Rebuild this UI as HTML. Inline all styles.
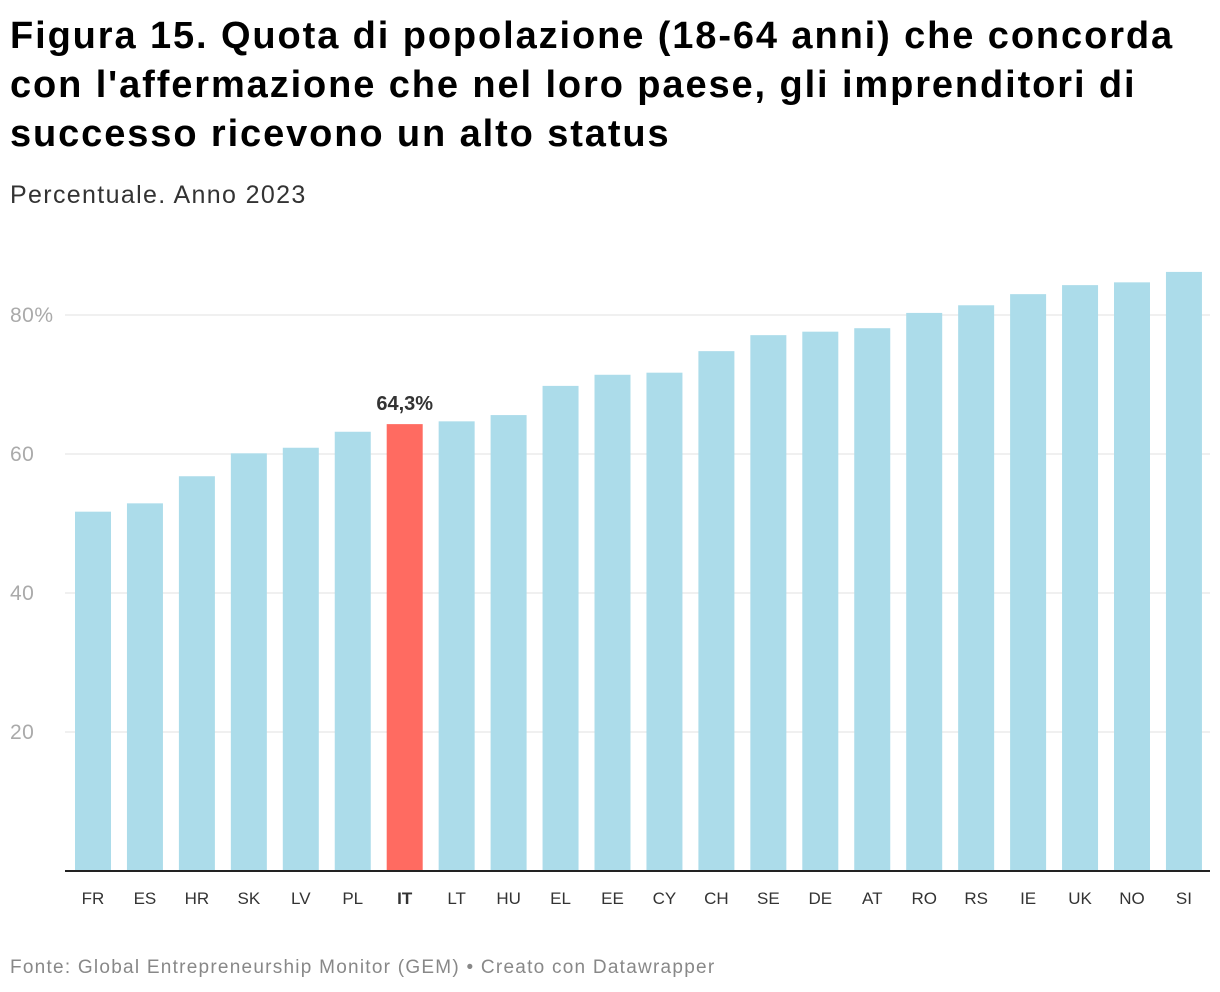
<!DOCTYPE html>
<html><head><meta charset="utf-8"><style>
body{margin:0;background:#fff;font-family:"Liberation Sans",sans-serif;width:1220px;height:992px;overflow:hidden;position:relative}
h1{position:absolute;left:10px;top:12px;margin:0;font-size:38px;line-height:49px;font-weight:bold;color:#000;width:1210px;white-space:nowrap;letter-spacing:1.9px}
.sub{position:absolute;left:10px;top:181px;font-size:25px;color:#333;letter-spacing:1.35px}
.foot{position:absolute;left:10px;top:957px;font-size:19px;color:#888;letter-spacing:1.25px}
svg{position:absolute;left:0;top:0}
</style></head><body>
<h1>Figura 15. Quota di popolazione (18-64 anni) che concorda<br>con l'affermazione che nel loro paese, gli imprenditori di<br>successo ricevono un alto status</h1>
<div class="sub">Percentuale. Anno 2023</div>
<div class="foot">Fonte: Global Entrepreneurship Monitor (GEM) • Creato con Datawrapper</div>
<svg id="c" width="1220" height="992"></svg>
<script>
const categories=["FR","ES","HR","SK","LV","PL","IT","LT","HU","EL","EE","CY","CH","SE","DE","AT","RO","RS","IE","UK","NO","SI"];
const values=[51.7,52.9,56.8,60.1,60.9,63.2,64.3,64.7,65.6,69.8,71.4,71.7,74.8,77.1,77.6,78.1,80.3,81.4,83.0,84.3,84.7,86.2];
const ticks=[20,40,60,80];
const tickLabels=["20","40","60","80%"];
const highlight="IT";
const ns="http://www.w3.org/2000/svg";
const svg=document.getElementById("c");
const y0=871,pxPer=6.95;
const y=v=>y0-v*pxPer;
const x=i=>93+i*51.95;
function mk(t,a){const e=document.createElementNS(ns,t);for(const k in a)e.setAttribute(k,a[k]);svg.appendChild(e);return e;}
ticks.forEach((t,i)=>{
 const l=mk("line",{x1:65,x2:1210,y1:y(t),y2:y(t),stroke:"#e0e0e0","stroke-width":1});
 
 
 const tx=mk("text",{x:10,y:y(t)+7,"font-size":21,fill:"#aaa","font-family":"Liberation Sans","letter-spacing":0.5});
 tx.textContent=tickLabels[i];
 
 
});
categories.forEach((c,i)=>{
 const hi=c===highlight;
 const r=mk("rect",{x:x(i)-18,y:y(values[i]),width:36,height:values[i]*pxPer,fill:hi?"#ff6b61":"#acdcea"});
 
 
 const t=mk("text",{x:x(i),y:904,"font-size":17,"text-anchor":"middle",fill:"#333","font-weight":hi?"bold":"normal","font-family":"Liberation Sans"});
 t.textContent=c;
 
 
 if(hi){
  const v=mk("text",{x:x(i),y:y(values[i])-14,"font-size":20,"text-anchor":"middle","font-weight":"bold",fill:"#333","font-family":"Liberation Sans"});
  v.textContent=values[i].toFixed(1).replace(".",",")+"%";
  
  
 }
});
const b=mk("line",{x1:65,x2:1210,y1:y0,y2:y0,stroke:"#222","stroke-width":2});


</script>
</body></html>
